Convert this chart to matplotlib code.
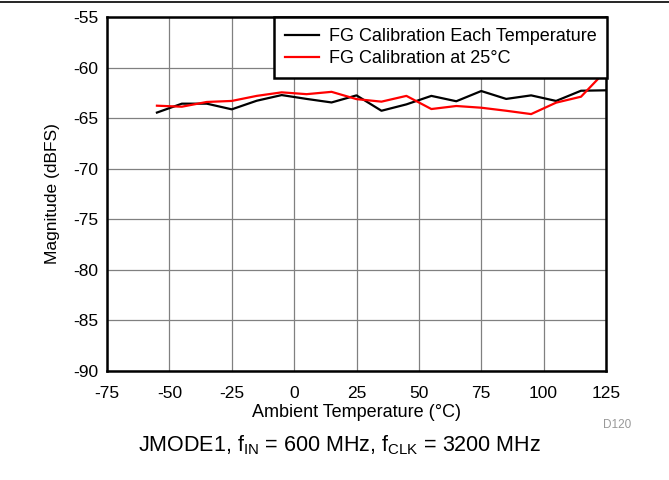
import matplotlib
matplotlib.use("Agg")
import matplotlib.pyplot as plt
from matplotlib.lines import Line2D

plt.rcParams['font.family'] = ['Liberation Sans', 'DejaVu Sans']
plt.rcParams['mathtext.fontset'] = 'custom'
plt.rcParams['mathtext.rm'] = 'Liberation Sans'
plt.rcParams['mathtext.it'] = 'Liberation Sans:italic'
plt.rcParams['axes.unicode_minus'] = False

# data
temps = [-55, -45, -35, -25, -15, -5, 5, 15, 25, 35, 45, 55, 65, 75, 85, 95, 105, 115, 125]
cal_each = [-64.45, -63.57, -63.57, -64.13, -63.28, -62.72, -63.1, -63.45, -62.75, -64.27,
            -63.64, -62.8, -63.33, -62.32, -63.1, -62.75, -63.3, -62.29, -62.25]
cal_25 = [-63.77, -63.87, -63.4, -63.3, -62.8, -62.45, -62.63, -62.4, -63.12, -63.37,
          -62.8, -64.1, -63.8, -63.97, -64.27, -64.6, -63.47, -62.88, -60.3]
x_ticks = [-75, -50, -25, 0, 25, 50, 75, 100, 125]
y_ticks = [-90, -85, -80, -75, -70, -65, -60, -55]

fig = plt.figure(figsize=(6.69, 4.8), dpi=100)
ax = fig.add_axes([0.16, 0.2271, 0.7458, 0.7375])

ax.plot(temps, cal_each, color='black', lw=1.6, label='FG Calibration Each Temperature', zorder=3)
ax.plot(temps, cal_25, color='#ff0000', lw=1.6, label='FG Calibration at 25°C', zorder=3)

ax.set_xlim(-75, 125)
ax.set_ylim(-90, -55)
ax.set_xticks(x_ticks)
ax.set_yticks(y_ticks)
ax.tick_params(length=0, labelsize=12.5)
ax.tick_params(axis='x', pad=11)
ax.tick_params(axis='y', pad=6)
ax.grid(True, color='#808080', lw=0.9)
for s in ax.spines.values():
    s.set_linewidth(1.8)

ax.set_xlabel('Ambient Temperature (°C)', fontsize=13, labelpad=2)
ax.set_ylabel('Magnitude (dBFS)', fontsize=12.5, labelpad=10)

leg = ax.legend(loc='upper right', fontsize=13, fancybox=False, framealpha=1,
                borderaxespad=0, handlelength=1.9, borderpad=0.6, labelspacing=0.3,
                handletextpad=0.55, bbox_to_anchor=(1.003, 1.0))
leg.get_frame().set_edgecolor('black')
leg.get_frame().set_linewidth(1.8)
leg.set_zorder(5)

fig.text(0.922, 0.114, 'D120', fontsize=8.5, color='#999999', ha='center', va='center')
fig.text(0.507, 0.073, r'JMODE1, f$_{\mathrm{IN}}$ = 600 MHz, f$_{\mathrm{CLK}}$ = 3200 MHz',
         fontsize=15.5, ha='center', va='center')
fig.add_artist(Line2D([0, 1], [0.995, 0.995], color='black', lw=1.2, transform=fig.transFigure))

fig.savefig('out.png', dpi=100)
